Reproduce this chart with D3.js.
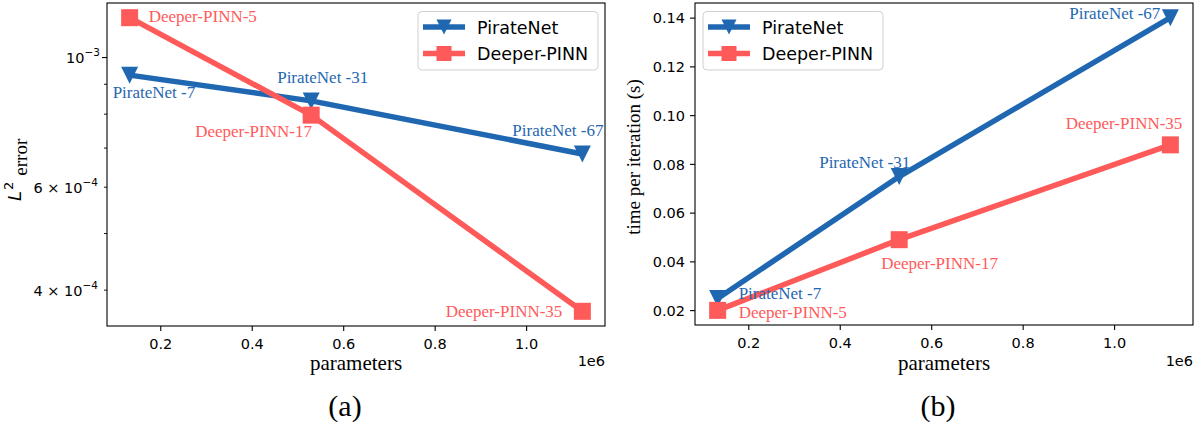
<!DOCTYPE html>
<html><head><meta charset="utf-8">
<script src="https://cdn.jsdelivr.net/npm/d3@7"></script>
<style>
html,body{margin:0;padding:0;background:#fff;}
svg{display:block;}
</style></head>
<body>
<script>
// ---------------- data ----------------
const params = [133000, 530000, 1123000];
const pirateL2 = [9.33e-4, 8.43e-4, 6.84e-4];
const deeperL2 = [1.17e-3, 7.97e-4, 3.68e-4];
const pirateTime = [0.0248, 0.0748, 0.1400];
const deeperTime = [0.0199, 0.0489, 0.0878];
const pirateLabels = ["PirateNet -7", "PirateNet -31", "PirateNet -67"];
const deeperLabels = ["Deeper-PINN-5", "Deeper-PINN-17", "Deeper-PINN-35"];
const seriesNames = ["PirateNet", "Deeper-PINN"];
const xTicks = [0.2e6, 0.4e6, 0.6e6, 0.8e6, 1.0e6];
const xTickLabels = ["0.2", "0.4", "0.6", "0.8", "1.0"];
const yMajorA = [1e-3];
const yMinorA = [4e-4, 5e-4, 6e-4, 7e-4, 8e-4, 9e-4];
const yLabeledA = [{v:1e-3, m:"10", e:"\u22123"}, {v:6e-4, m:"6 \u00d7 10", e:"\u22124"}, {v:4e-4, m:"4 \u00d7 10", e:"\u22124"}];
const yTicksB = [0.02, 0.04, 0.06, 0.08, 0.10, 0.12, 0.14];
const yTickLabelsB = ["0.02", "0.04", "0.06", "0.08", "0.10", "0.12", "0.14"];

// ---------------- style ----------------
const BLUE = "#1f67b1", RED = "#ff5a5a";
const SANS = "'DejaVu Sans', sans-serif";
const SERIF = "'Liberation Serif', 'Times New Roman', serif";

const svg = d3.select("body").append("svg").attr("width", 1203).attr("height", 427);

function marg(a, b, f) { const r = b - a; return [a - f * r, b + f * r]; }

const xDom = marg(d3.min(params), d3.max(params), 0.05);

function frame(p) {
  svg.append("rect").attr("x", p.left).attr("y", p.top)
    .attr("width", p.right - p.left).attr("height", p.bottom - p.top)
    .attr("fill", "none").attr("stroke", "#000").attr("stroke-width", 1.1);
}

function xAxis(p, x) {
  const g = svg.append("g").attr("transform", `translate(0,${p.bottom})`)
    .call(d3.axisBottom(x).tickValues(xTicks).tickSize(5).tickSizeOuter(0).tickFormat((d, i) => xTickLabels[i]));
  g.select(".domain").remove();
  g.selectAll("line").attr("stroke", "#000").attr("stroke-width", 1.1);
  g.selectAll("text").attr("font-family", SANS).attr("font-size", 14.5).attr("fill", "#000").attr("dy", null).attr("y", 23);
  svg.append("text").attr("x", p.right).attr("y", 366).attr("text-anchor", "end")
    .attr("font-family", SANS).attr("font-size", 14.5).text("1e6");
  svg.append("text").attr("x", (p.left + p.right) / 2).attr("y", 370).attr("text-anchor", "middle")
    .attr("font-family", SERIF).attr("font-size", 21).text("parameters");
}

function triPath(s) { return `M${-s},${-s}L${s},${-s}L0,${s}Z`; }
function drawSeries(g, x, y, xs, ys, color, marker) {
  const line = d3.line().x((d, i) => x(xs[i])).y(d => y(d));
  g.append("path").attr("d", line(ys)).attr("fill", "none").attr("stroke", color)
    .attr("stroke-width", 5.5).attr("stroke-linejoin", "round");
  ys.forEach((v, i) => {
    const cx = x(xs[i]), cy = y(v);
    if (marker === "tri") {
      g.append("path").attr("d", triPath(8.5)).attr("transform", `translate(${cx},${cy})`).attr("fill", color);
    } else {
      g.append("rect").attr("x", cx - 8.5).attr("y", cy - 8.5).attr("width", 17).attr("height", 17).attr("fill", color);
    }
  });
}

function annotate(x, y, xs, ys, labels, offs, color) {
  labels.forEach((t, i) => {
    const o = offs[i];
    svg.append("text").attr("x", x(xs[i]) + o[0]).attr("y", y(ys[i]) + o[1])
      .attr("text-anchor", o[2] || "start").attr("font-family", SERIF).attr("font-size", 17)
      .attr("fill", color).text(t);
  });
}

function legend(lx) {
  const g = svg.append("g");
  g.append("rect").attr("x", lx).attr("y", 11.5).attr("width", 180).attr("height", 58.5)
    .attr("rx", 4).attr("fill", "#fff").attr("fill-opacity", 0.8).attr("stroke", "#d0d0d0").attr("stroke-width", 1);
  const rows = [{c: BLUE, m: "tri", y: 27}, {c: RED, m: "sq", y: 53.5}];
  rows.forEach((r, i) => {
    g.append("line").attr("x1", lx + 5).attr("x2", lx + 47).attr("y1", r.y).attr("y2", r.y)
      .attr("stroke", r.c).attr("stroke-width", 5.5);
    const cx = lx + 26;
    if (r.m === "tri") g.append("path").attr("d", triPath(7.5)).attr("transform", `translate(${cx},${r.y})`).attr("fill", r.c);
    else g.append("rect").attr("x", cx - 7.5).attr("y", r.y - 7.5).attr("width", 15).attr("height", 15).attr("fill", r.c);
    g.append("text").attr("x", lx + 59).attr("y", r.y + 6.5).attr("font-family", SANS).attr("font-size", 17.5)
      .attr("fill", "#000").text(seriesNames[i]);
  });
}

// ---------------- panel (a) ----------------
const pa = {left: 107, right: 605, top: 3, bottom: 326};
const xa = d3.scaleLinear().domain(xDom).range([pa.left, pa.right]);
const allL2 = pirateL2.concat(deeperL2);
const lmin = Math.log10(d3.min(allL2)), lmax = Math.log10(d3.max(allL2));
const ld = marg(lmin, lmax, 0.05);
const ya = d3.scaleLog().domain([Math.pow(10, ld[0]), Math.pow(10, ld[1])]).range([pa.bottom, pa.top]);

const ga = svg.append("g");
drawSeries(ga, xa, ya, params, pirateL2, BLUE, "tri");
drawSeries(ga, xa, ya, params, deeperL2, RED, "sq");

// y ticks
yMinorA.forEach(v => svg.append("line").attr("x1", pa.left - 3).attr("x2", pa.left).attr("y1", ya(v)).attr("y2", ya(v)).attr("stroke", "#000").attr("stroke-width", 0.9));
yMajorA.forEach(v => svg.append("line").attr("x1", pa.left - 5).attr("x2", pa.left).attr("y1", ya(v)).attr("y2", ya(v)).attr("stroke", "#000").attr("stroke-width", 1.1));
yLabeledA.forEach(d => {
  const t = svg.append("text").attr("x", d.v === 1e-3 ? pa.left - 7 : pa.left - 9).attr("y", ya(d.v) + 5.5)
    .attr("text-anchor", "end").attr("font-family", SANS).attr("font-size", 14.5);
  t.append("tspan").text(d.m);
  t.append("tspan").attr("dy", -7).attr("font-size", 10.5).text(d.e);
});
frame(pa);
xAxis(pa, xa);
annotate(xa, ya, params, pirateL2, pirateLabels, [[-17, 23], [-34, -18], [-70, -18]], BLUE);
annotate(xa, ya, params, deeperL2, deeperLabels, [[19, 4], [-116, 22], [-20, 6, "end"]], RED);
legend(418);

// y label (a)
{
  const t = svg.append("text").attr("transform", `translate(27,201) rotate(-90)`)
    .attr("text-anchor", "start");
  t.append("tspan").attr("font-family", SANS).attr("font-style", "italic").attr("font-size", 18).attr("dy", -6.5).text("L");
  t.append("tspan").attr("font-family", SANS).attr("font-size", 13).attr("dy", -8).attr("dx", 1).text("2");
  t.append("tspan").attr("font-family", SERIF).attr("font-size", 19).attr("dy", 14.5).attr("dx", 6).text("error");
}
svg.append("text").attr("x", 345).attr("y", 416).attr("text-anchor", "middle")
  .attr("font-family", SERIF).attr("font-size", 30).text("(a)");

// ---------------- panel (b) ----------------
const pb = {left: 695, right: 1193, top: 3, bottom: 325};
const xb = d3.scaleLinear().domain(xDom).range([pb.left, pb.right]);
const allT = pirateTime.concat(deeperTime);
const yb = d3.scaleLinear().domain(marg(d3.min(allT), d3.max(allT), 0.05)).range([pb.bottom, pb.top]);

const gb = svg.append("g");
drawSeries(gb, xb, yb, params, pirateTime, BLUE, "tri");
drawSeries(gb, xb, yb, params, deeperTime, RED, "sq");

{
  const g = svg.append("g").attr("transform", `translate(${pb.left},0)`)
    .call(d3.axisLeft(yb).tickValues(yTicksB).tickSize(5).tickSizeOuter(0).tickFormat((d, i) => yTickLabelsB[i]));
  g.select(".domain").remove();
  g.selectAll("line").attr("stroke", "#000").attr("stroke-width", 1.1);
  g.selectAll("text").attr("font-family", SANS).attr("font-size", 14.5).attr("fill", "#000").attr("x", -10).attr("dy", "0.36em");
}
frame(pb);
xAxis(pb, xb);
annotate(xb, yb, params, pirateTime, pirateLabels, [[21, 1], [-80, -9], [-10, 1, "end"]], BLUE);
annotate(xb, yb, params, deeperTime, deeperLabels, [[21, 8], [-18, 29], [12, -16, "end"]], RED);
legend(703);

svg.append("text").attr("transform", `translate(640,157) rotate(-90)`).attr("text-anchor", "middle")
  .attr("font-family", SERIF).attr("font-size", 19).text("time per iteration (s)");
svg.append("text").attr("x", 938).attr("y", 416).attr("text-anchor", "middle")
  .attr("font-family", SERIF).attr("font-size", 30).text("(b)");
</script>
</body></html>
